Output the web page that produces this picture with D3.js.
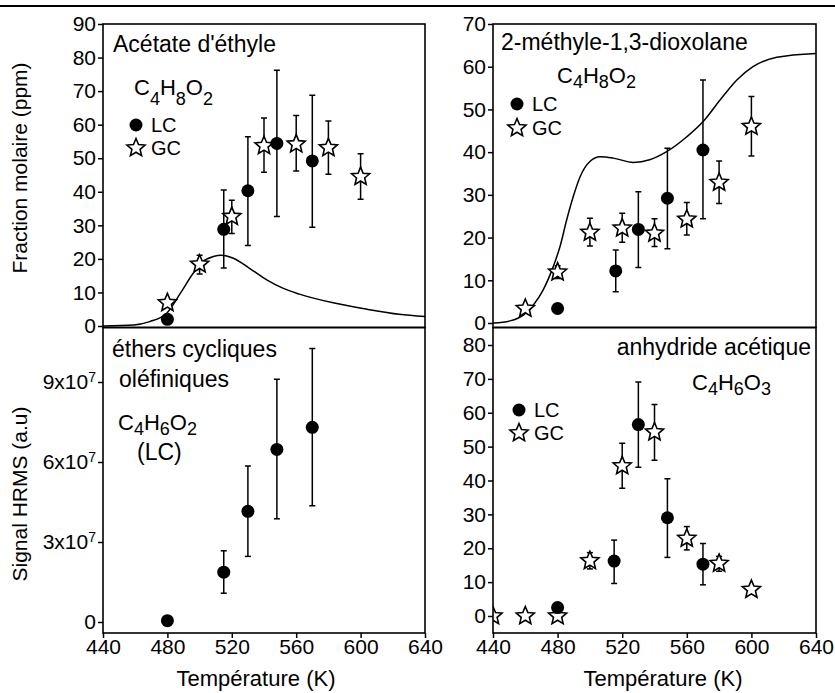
<!DOCTYPE html>
<html>
<head>
<meta charset="utf-8">
<script src="https://cdn.jsdelivr.net/npm/d3@7"></script>
<style>
body { margin: 0; background: #fff; }
text { font-family: "Liberation Sans", Arial, sans-serif; fill: #000; }
</style>
</head>
<body>
<script>
var w = 835;
var h = 693;

// Temperature ticks (shared x axis)
var tempTicks = [440, 480, 520, 560, 600, 640];

// Acétate d'éthyle (ppm)
var acetLcT = [480, 515, 530, 548, 570];
var acetLc = [2, 28.8, 40.3, 54.4, 49.2];
var acetLcLo = [null, 17.3, 24, 32.6, 29.4];
var acetLcHi = [null, 40.5, 56.4, 76.2, 68.8];
var acetGcT = [480, 500, 520, 540, 560, 580, 600];
var acetGc = [6.9, 18.4, 32.6, 53.7, 54.2, 53.1, 44.5];
var acetGcLo = [null, 15.5, 27.6, 45.8, 46.2, 45.2, 37.8];
var acetGcHi = [null, 21.1, 37.5, 62, 62.7, 61.1, 51.3];
var acetModelT = [440, 459, 469, 479.5, 488, 496, 502, 508.5, 513.5, 521, 531, 542, 552, 562, 583, 604, 624, 640];
var acetModel = [0, 0.3, 1.3, 3.8, 9.7, 15.7, 19.2, 20.7, 21.1, 20.2, 17.2, 13.7, 11.2, 9.5, 6.9, 5.0, 3.5, 2.8];

// 2-méthyle-1,3-dioxolane (ppm)
var dioxLcT = [480, 516, 530, 548, 570];
var dioxLc = [3.4, 12.2, 21.9, 29.2, 40.5];
var dioxLcLo = [null, 7.3, 13, 17.4, 24.4];
var dioxLcHi = [null, 17.1, 30.7, 40.9, 56.9];
var dioxGcT = [460, 480, 500, 520, 540, 560, 580, 600];
var dioxGc = [3.4, 11.9, 21.2, 22.2, 21, 24.3, 32.9, 46];
var dioxGcLo = [null, 10.4, 18, 18.9, 17.9, 20.6, 28, 39.1];
var dioxGcHi = [null, 13.4, 24.5, 25.7, 24.4, 28.2, 37.9, 53];
var dioxModelT = [440, 450.5, 459, 465, 471, 477.3, 481.5, 485.6, 489.7, 494, 500, 506.3, 514.5, 527, 537, 547.5, 560, 570, 580.6, 591, 601, 615.7, 640];
var dioxModel = [0, 0.5, 1.9, 4.2, 7.7, 13.2, 17.9, 24.1, 29.6, 34.3, 37.8, 38.9, 38.6, 37.6, 38.2, 40.1, 43.6, 47.1, 52.2, 56.9, 60.0, 62.2, 63.1];

// éthers cycliques oléfiniques (signal HRMS)
var etherT = [480, 515, 530, 548, 570];
var ether = [0.05e7, 1.87e7, 4.15e7, 6.47e7, 7.3e7];
var etherLo = [null, 1.08e7, 2.46e7, 3.87e7, 4.36e7];
var etherHi = [null, 2.67e7, 5.85e7, 9.1e7, 10.26e7];
var etherTicks = [0, 3e7, 6e7, 9e7];

// anhydride acétique (ppm)
var anhyLcT = [480, 515, 530, 548, 570];
var anhyLc = [2.5, 16.2, 56.5, 29, 15.3];
var anhyLcLo = [null, 9.6, 43.9, 17.3, 9.2];
var anhyLcHi = [null, 22.4, 69.1, 40.5, 21.4];
var anhyGcT = [440, 460, 480, 500, 520, 540, 560, 580, 600];
var anhyGc = [0, 0, 0, 16.3, 44.3, 54.3, 22.9, 15.5, 7.8];
var anhyGcLo = [null, null, null, 13.9, 37.7, 46, 19.5, 13.2, null];
var anhyGcHi = [null, null, null, 18.7, 51, 62.4, 26.4, 17.6, null];

// Start the svg block
var svg = d3.select("body")
    .append("svg")
    .attr("width", w)
    .attr("height", h);

// page rule above the figure
svg.append("line")
    .attr("x1", 0).attr("x2", w)
    .attr("y1", 6).attr("y2", 6)
    .attr("stroke", "#000").attr("stroke-width", 2);

// Scales
var xLeft = d3.scaleLinear().domain([440, 640]).range([103, 425]);
var xRight = d3.scaleLinear().domain([440, 640]).range([493, 816]);
var yAcet = d3.scaleLinear().domain([0, 90]).range([326, 24]);
var yDiox = d3.scaleLinear().domain([0, 70]).range([323, 24]);
var yEther = d3.scaleLinear().domain([0, 9e7]).range([622, 382]);
var yAnhy = d3.scaleLinear().domain([0, 80]).range([616, 345]);

var topY = 24, midY = 327.5, botY = 633;

function starPath(R, r) {
    var pts = [];
    for (var i = 0; i < 10; i++) {
        var a = -Math.PI / 2 + i * Math.PI / 5;
        var rad = i % 2 ? r : R;
        pts.push([rad * Math.cos(a), rad * Math.sin(a)]);
    }
    return "M" + pts.join("L") + "Z";
}
var star = starPath(9.5, 4.3);

var clipCount = 0;

// draw one panel: frame, y axis, errorbars, markers, model line
function panel(x, y, y0, y1, opts) {
    var g = svg.append("g");
    clipCount++;
    var id = "clip" + clipCount;
    svg.append("clipPath").attr("id", id)
        .append("rect")
        .attr("x", x.range()[0]).attr("y", y0)
        .attr("width", x.range()[1] - x.range()[0])
        .attr("height", y1 - y0);

    var marks = g.append("g").attr("clip-path", "url(#" + id + ")");

    // model curve
    if (opts.modelT) {
        var line = d3.line()
            .x(function(d) { return x(d[0]); })
            .y(function(d) { return y(d[1]); })
            .curve(d3.curveMonotoneX);
        marks.append("path")
            .attr("d", line(d3.zip(opts.modelT, opts.model)))
            .attr("fill", "none")
            .attr("stroke", "#000")
            .attr("stroke-width", 1.5);
    }

    // series: error bars first, then markers
    opts.series.forEach(function(s) {
        s.T.forEach(function(t, i) {
            if (s.lo[i] == null) return;
            var eb = marks.append("g").attr("stroke", "#000").attr("stroke-width", 1.5);
            eb.append("line").attr("x1", x(t)).attr("x2", x(t))
                .attr("y1", y(s.lo[i])).attr("y2", y(s.hi[i]));
            eb.append("line").attr("x1", x(t) - 3).attr("x2", x(t) + 3)
                .attr("y1", y(s.lo[i])).attr("y2", y(s.lo[i]));
            eb.append("line").attr("x1", x(t) - 3).attr("x2", x(t) + 3)
                .attr("y1", y(s.hi[i])).attr("y2", y(s.hi[i]));
        });
    });
    opts.series.forEach(function(s) {
        s.T.forEach(function(t, i) {
            if (s.type == "LC") {
                marks.append("circle")
                    .attr("cx", x(t)).attr("cy", y(s.v[i]))
                    .attr("r", 6.5).attr("fill", "#000");
            } else {
                marks.append("path")
                    .attr("d", star)
                    .attr("transform", "translate(" + x(t) + "," + y(s.v[i]) + ")")
                    .attr("fill", "#fff").attr("stroke", "#000").attr("stroke-width", 1.6);
            }
        });
    });

    // y axis
    var ax = d3.axisLeft(y).tickValues(opts.yTicks).tickSize(5).tickPadding(2).tickSizeOuter(0);
    var ga = g.append("g")
        .attr("transform", "translate(" + x.range()[0] + ",0)")
        .call(ax);
    ga.select(".domain").remove();
    ga.selectAll("line").attr("stroke-width", 1.5);
    ga.selectAll("text").style("font-size", "21px").attr("fill", "#000")
        .attr("font-family", "Liberation Sans, Arial, sans-serif");
    if (opts.sci) {
        ga.selectAll("text").each(function(d) {
            var t = d3.select(this);
            if (d == 0) return;
            t.text(null);
            t.append("tspan").text((d / 1e7) + "x10");
            t.append("tspan").attr("dy", "-0.55em").style("font-size", "14px").text("7");
        });
    }

    // x axis for bottom panels
    if (opts.xAxis) {
        var gx = g.append("g")
            .attr("transform", "translate(0," + y1 + ")")
            .call(d3.axisBottom(x).tickValues(tempTicks).tickSize(5).tickPadding(1).tickSizeOuter(0));
        gx.select(".domain").remove();
        gx.selectAll("line").attr("stroke-width", 1.5);
        gx.selectAll("text").style("font-size", "21px").attr("fill", "#000")
            .attr("font-family", "Liberation Sans, Arial, sans-serif");
        svg.append("text")
            .attr("x", opts.xLabelX).attr("y", 686)
            .attr("text-anchor", "middle")
            .style("font-size", "22px")
            .text("Température (K)");
    }

    // frame
    g.append("rect")
        .attr("x", x.range()[0]).attr("y", y0)
        .attr("width", x.range()[1] - x.range()[0])
        .attr("height", y1 - y0)
        .attr("fill", "none").attr("stroke", "#000").attr("stroke-width", 1.6);
    return g;
}

function series(type, T, v, lo, hi) {
    return {type: type, T: T, v: v, lo: lo, hi: hi};
}

panel(xLeft, yAcet, topY, midY, {
    yTicks: d3.range(0, 91, 10),
    modelT: acetModelT, model: acetModel,
    series: [series("GC", acetGcT, acetGc, acetGcLo, acetGcHi),
             series("LC", acetLcT, acetLc, acetLcLo, acetLcHi)]
});
panel(xRight, yDiox, topY, midY, {
    yTicks: d3.range(0, 71, 10),
    modelT: dioxModelT, model: dioxModel,
    series: [series("GC", dioxGcT, dioxGc, dioxGcLo, dioxGcHi),
             series("LC", dioxLcT, dioxLc, dioxLcLo, dioxLcHi)]
});
panel(xLeft, yEther, midY, botY, {
    yTicks: etherTicks, sci: true, xAxis: true, xLabelX: 256,
    series: [series("LC", etherT, ether, etherLo, etherHi)]
});
panel(xRight, yAnhy, midY, botY, {
    yTicks: d3.range(0, 81, 10), xAxis: true, xLabelX: 663,
    series: [series("GC", anhyGcT, anhyGc, anhyGcLo, anhyGcHi),
             series("LC", anhyLcT, anhyLc, anhyLcLo, anhyLcHi)]
});

// y axis titles
svg.append("text")
    .attr("transform", "translate(27,168) rotate(-90)")
    .attr("text-anchor", "middle")
    .style("font-size", "21px")
    .text("Fraction molaire (ppm)");
svg.append("text")
    .attr("transform", "translate(27,494) rotate(-90)")
    .attr("text-anchor", "middle")
    .style("font-size", "21px")
    .text("Signal HRMS (a.u)");

// panel titles
function label(x, y, txt, anchor) {
    return svg.append("text").attr("x", x).attr("y", y)
        .attr("text-anchor", anchor || "start")
        .style("font-size", "23px").text(txt);
}
label(113, 52, "Acétate d'éthyle");
label(501, 50, "2-méthyle-1,3-dioxolane");
label(112, 357, "éthers cycliques");
label(119, 387, "oléfiniques");
label(811, 355, "anhydride acétique", "end");
label(137, 460, "(LC)");

// chemical formulas with subscripts
function formula(x, y, parts, drop) {
    var t = svg.append("text").attr("x", x).attr("y", y).style("font-size", "22px");
    parts.forEach(function(p, i) {
        var sub = i % 2 == 1;
        t.append("tspan")
            .attr("dy", i == 0 ? 0 : (sub ? drop : -drop))
            .style("font-size", sub ? "18px" : "22px")
            .text(p);
    });
}
formula(134, 95, ["C", "4", "H", "8", "O", "2"], 10);
formula(557, 83, ["C", "4", "H", "8", "O", "2"], 5);
formula(118, 430, ["C", "4", "H", "6", "O", "2"], 5);
formula(692, 390, ["C", "4", "H", "6", "O", "3"], 5);

// legends
function legend(cx, cy, dy) {
    svg.append("circle").attr("cx", cx).attr("cy", cy).attr("r", 6.5).attr("fill", "#000");
    svg.append("text").attr("x", cx + 15).attr("y", cy + 7).style("font-size", "20px").text("LC");
    svg.append("path").attr("d", star)
        .attr("transform", "translate(" + cx + "," + (cy + dy) + ")")
        .attr("fill", "#fff").attr("stroke", "#000").attr("stroke-width", 1.6);
    svg.append("text").attr("x", cx + 15).attr("y", cy + dy + 7).style("font-size", "20px").text("GC");
}
legend(136, 125, 23);
legend(517, 104, 24);
legend(519, 410, 23);
</script>
</body>
</html>
